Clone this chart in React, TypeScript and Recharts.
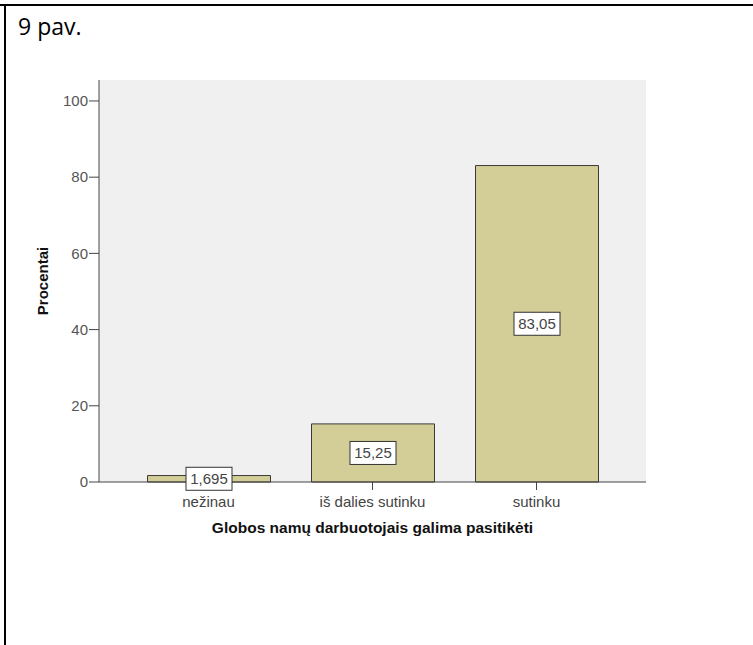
import { Bar, BarChart, CartesianGrid, LabelList, XAxis, YAxis } from "recharts";

const categories = ["nežinau", "iš dalies sutinku", "sutinku"];
const percents = [1.695, 15.25, 83.05];
const yTicks = [0, 20, 40, 60, 80, 100];

const data = categories.map((name, i) => ({ name, value: percents[i] }));

const FONT = "Arial, 'Liberation Sans', sans-serif";

// white boxed value label in the middle of each bar
function ValueBox(props: any) {
  const { x, y, width, height, value } = props;
  const cx = x + width / 2;
  const cy = y + height / 2;
  const text = String(value).replace(".", ",");
  const w = 46;
  const h = 23;
  return (
    <g>
      <rect
        x={cx - w / 2}
        y={cy - h / 2}
        width={w}
        height={h}
        fill="#ffffff"
        stroke="#333333"
        strokeWidth={1}
      />
      <text
        x={cx}
        y={cy}
        textAnchor="middle"
        dominantBaseline="central"
        fontFamily={FONT}
        fontSize={15}
        fill="#444444"
      >
        {text}
      </text>
    </g>
  );
}

function YTitle(props: any) {
  const { viewBox } = props;
  const x = viewBox.x + 42;
  const y = viewBox.y + viewBox.height / 2;
  return (
    <text
      x={x}
      y={y}
      transform={`rotate(-90, ${x}, ${y})`}
      textAnchor="middle"
      dominantBaseline="central"
      fontFamily={FONT}
      fontSize={15}
      fontWeight="bold"
      fill="#111111"
    >
      Procentai
    </text>
  );
}

export default function App() {
  return (
    <div
      style={{
        position: "absolute",
        left: 0,
        top: 0,
        width: 753,
        height: 645,
        background: "#ffffff",
        overflow: "hidden",
      }}
    >
      <div
        style={{
          position: "absolute",
          left: 0,
          top: 4,
          width: 753,
          height: 2,
          background: "#000",
        }}
      />
      <div
        style={{
          position: "absolute",
          left: 4,
          top: 4,
          width: 2,
          height: 641,
          background: "#000",
        }}
      />
      <div
        style={{
          position: "absolute",
          left: 18,
          top: 15,
          fontFamily: "'Open Sans', sans-serif",
          fontSize: 23,
          lineHeight: "23px",
          color: "#000",
        }}
      >
        9 pav.
      </div>
      <div style={{ position: "absolute", left: 0, top: 0 }}>
        <BarChart
          width={753}
          height={645}
          data={data}
          margin={{ top: 80, right: 107, left: 0, bottom: 103 }}
        >
          <CartesianGrid
            horizontal={false}
            vertical={false}
            fill="#f0f0f0"
            fillOpacity={1}
          />
          <XAxis
            dataKey="name"
            height={60}
            padding={{ left: 27.5, right: 27.5 }}
            tickSize={8}
            tickMargin={6}
            tickLine={{ stroke: "#444" }}
            axisLine={{ stroke: "#444" }}
            tick={{ fontSize: 15, fontFamily: FONT, fill: "#444" }}
            label={{
              value: "Globos namų darbuotojais galima pasitikėti",
              position: "insideBottom",
              offset: 9,
              fontSize: 15.5,
              fontWeight: "bold",
              fontFamily: FONT,
              fill: "#111",
            }}
          />
          <XAxis
            xAxisId="top"
            dataKey="name"
            orientation="top"
            height={0}
            tick={false}
            tickLine={false}
            axisLine={{ stroke: "#777" }}
          />
          <YAxis
            width={99}
            domain={[0, 105.5]}
            ticks={yTicks}
            tickSize={10}
            tickMargin={1}
            tickLine={{ stroke: "#444" }}
            axisLine={{ stroke: "#444" }}
            tick={{ fontSize: 15, fontFamily: FONT, fill: "#555" }}
            label={<YTitle />}
          />
          <YAxis
            yAxisId="right"
            orientation="right"
            width={0}
            domain={[0, 105.5]}
            tick={false}
            tickLine={false}
            axisLine={{ stroke: "#666" }}
          />
          <Bar
            dataKey="value"
            barSize={123}
            fill="#d3ce97"
            stroke="#3a3a3a"
            strokeWidth={1}
            isAnimationActive={false}
          >
            <LabelList dataKey="value" content={<ValueBox />} />
          </Bar>
        </BarChart>
      </div>
    </div>
  );
}
